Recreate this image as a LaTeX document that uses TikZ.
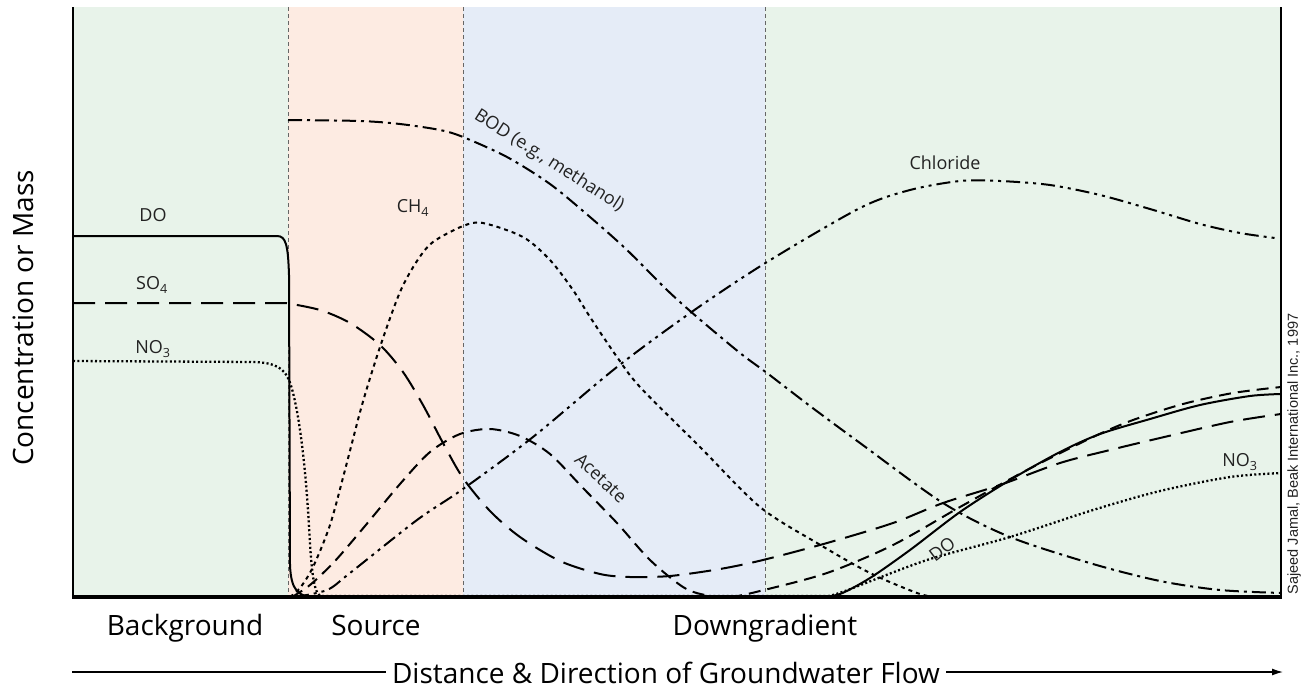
\documentclass[tikz,border=0pt]{standalone}
\usepackage{fontspec}
\setmainfont{Open Sans}
\newfontfamily\credfont{Liberation Sans}
\usetikzlibrary{arrows.meta}
\definecolor{bggreen}{HTML}{E8F3EA}
\definecolor{bgsalmon}{HTML}{FDEBE2}
\definecolor{bgblue}{HTML}{E5ECF7}
\definecolor{txt}{HTML}{222222}
\definecolor{divgray}{HTML}{666666}
\begin{document}
\begin{tikzpicture}[x=1pt,y=-1pt,
  crv/.style={line width=2pt, black, line join=round},
  solidc/.style={crv},
  longdash/.style={crv, dash pattern=on 22pt off 10pt},
  meddash/.style={crv, dash pattern=on 12pt off 7pt},
  densedot/.style={crv, dash pattern=on 4pt off 4pt},
  finedot/.style={line width=2.3pt, black, dash pattern=on 2pt off 2.4pt},
  dashdot/.style={crv, dash pattern=on 14pt off 5pt on 3pt off 5pt},
  dashdotdot/.style={crv, dash pattern=on 14pt off 5pt on 3pt off 5pt on 3pt off 5pt},
  divider/.style={divgray, line width=0.9pt, dash pattern=on 4pt off 3pt},
  lbl/.style={text=txt, font=\fontsize{18}{20}\selectfont, inner sep=1pt},
  big/.style={text=black, font=\fontsize{28}{32}\selectfont, inner sep=0pt}]
\useasboundingbox (0,0) rectangle (1307,689);
% backgrounds
\fill[bggreen] (73,7) rectangle (288,597);
\fill[bgsalmon] (288,7) rectangle (463,597);
\fill[bgblue] (463,7) rectangle (765,597);
\fill[bggreen] (765,7) rectangle (1281,597);
% dividers
\draw[divider] (288,7) -- (288,597);
\draw[divider] (463,7) -- (463,597);
\draw[divider] (765,7) -- (765,597);
% BOD
\draw[dashdot] (288,120) -- plot[smooth] coordinates {(288,120) (360,121) (400,124) (440,130) (463,137) (507,157) (550,184) (590,217) (627,250) (667,290) (697,317) (740,353) (767,373) (810,406) (860,443) (943,503) (1010,537) (1093,564) (1160,581) (1220,590) (1281,593)};
% Chloride
\draw[dashdotdot] (295,597) -- plot[smooth] coordinates {(295,597) (327,590) (350,573) (417,520) (463,489) (533,437) (617,367) (693,311) (767,262) (860,208) (910,190) (960,181) (1000,181) (1050,185) (1100,195) (1150,209) (1200,224) (1240,233) (1275,238)};
% CH4
\draw[densedot] (290,597) -- plot[smooth] coordinates {(290,597) (300,588) (313,567) (330,525) (345,470) (362,405) (380,347) (400,292) (417,261) (433,242) (463,226) (483,223) (523,237) (550,260) (573,290) (590,317) (617,357) (640,387) (700,447) (760,507) (817,543) (870,573) (917,593) (935,597)};
% Acetate and recovery
\draw[meddash] (292,597) -- plot[smooth] coordinates {(292,597) (310,585) (335,561) (365,526) (400,484) (430,452) (460,434) (490,429) (520,436) (550,454) (583,488) (617,523) (650,560) (683,587) (705,595) (730,597) (760,591) (827,573) (893,545) (960,507) (1027,470) (1093,437) (1133,420) (1183,404) (1233,393) (1281,387)};
% SO4
\draw[longdash] (73,303) -- (286,303) -- plot[smooth] coordinates {(286,303) (320,310) (350,323) (380,345) (403,372) (423,405) (443,443) (463,478) (490,511) (520,537) (560,561) (600,574) (630,577) (670,576) (720,569) (763,560) (827,543) (893,523) (943,503) (1000,485) (1060,463) (1110,450) (1160,438) (1230,422) (1281,414)};
% NO3
\draw[finedot] (73,361) -- (255,362) .. controls (275,363) and (284,368) .. (289,380) .. controls (297,400) and (304,450) .. (308,510) .. controls (311,560) and (312,590) .. (320,596) -- (828,596) -- plot[smooth] coordinates {(828,596) (845,591) (927,560) (1010,537) (1093,510) (1160,491) (1230,477) (1281,473)};
% DO
\draw[solidc] (73,236) -- (277,236) .. controls (286,236) and (288,245) .. (289,275) -- (290,565) .. controls (291,590) and (298,597) .. (315,597) -- (820,597) -- plot[smooth] coordinates {(820,597) (840,594) (870,578) (910,550) (960,512) (1010,480) (1060,452) (1100,434) (1150,419) (1200,405) (1250,396) (1281,394)};
% axes
\draw[line width=2.5pt] (73,7) -- (73,597);
\draw[line width=2.5pt] (1281,7) -- (1281,598);
\draw[line width=3.5pt] (71.75,597) -- (1282.25,597);
% curve labels
\node[lbl] (lDO) at (153,215) {DO};
\node[lbl] (lSO) at (152,285) {SO\textsubscript{4}};
\node[lbl] (lNO) at (153,349) {NO\textsubscript{3}};
\node[lbl] (lCH) at (413,208) {CH\textsubscript{4}};
\node[lbl, rotate=-32.5] (lBOD) at (549,161) {BOD (e.g., methanol)};
\node[lbl] (lCl) at (945,163) {Chloride};
\node[lbl, rotate=-43] (lAc) at (601,478) {Acetate};
\node[lbl, rotate=37] (lDO2) at (942,549) {DO};
\node[lbl] (lNO2) at (1240,462) {NO\textsubscript{3}};
% credit
\node[text=txt, font=\credfont\fontsize{14.5}{16}\selectfont, rotate=90, inner sep=0pt] (cred) at (1294,454) {Sajeed Jamal, Beak International Inc., 1997};
% axis labels
\node[big, anchor=base, rotate=90] (ylab) at (33,318) {Concentration or Mass};
\node[big, anchor=base] (zbg) at (185,635) {Background};
\node[big, anchor=base] (zsrc) at (376,635) {Source};
\node[big, anchor=base] (zdown) at (765,635) {Downgradient};
\node[big, anchor=base, inner xsep=6pt] (dist) at (666,683) {Distance \& Direction of Groundwater Flow};
\coordinate (ds) at (72,672);
\coordinate (de) at (1283,672);
\draw[line width=1.3pt] (ds) -- (ds -| dist.west);
\draw[line width=1.3pt, -{Latex[length=11pt,width=7pt]}] (de -| dist.east) -- (de);
\end{tikzpicture}
\end{document}
